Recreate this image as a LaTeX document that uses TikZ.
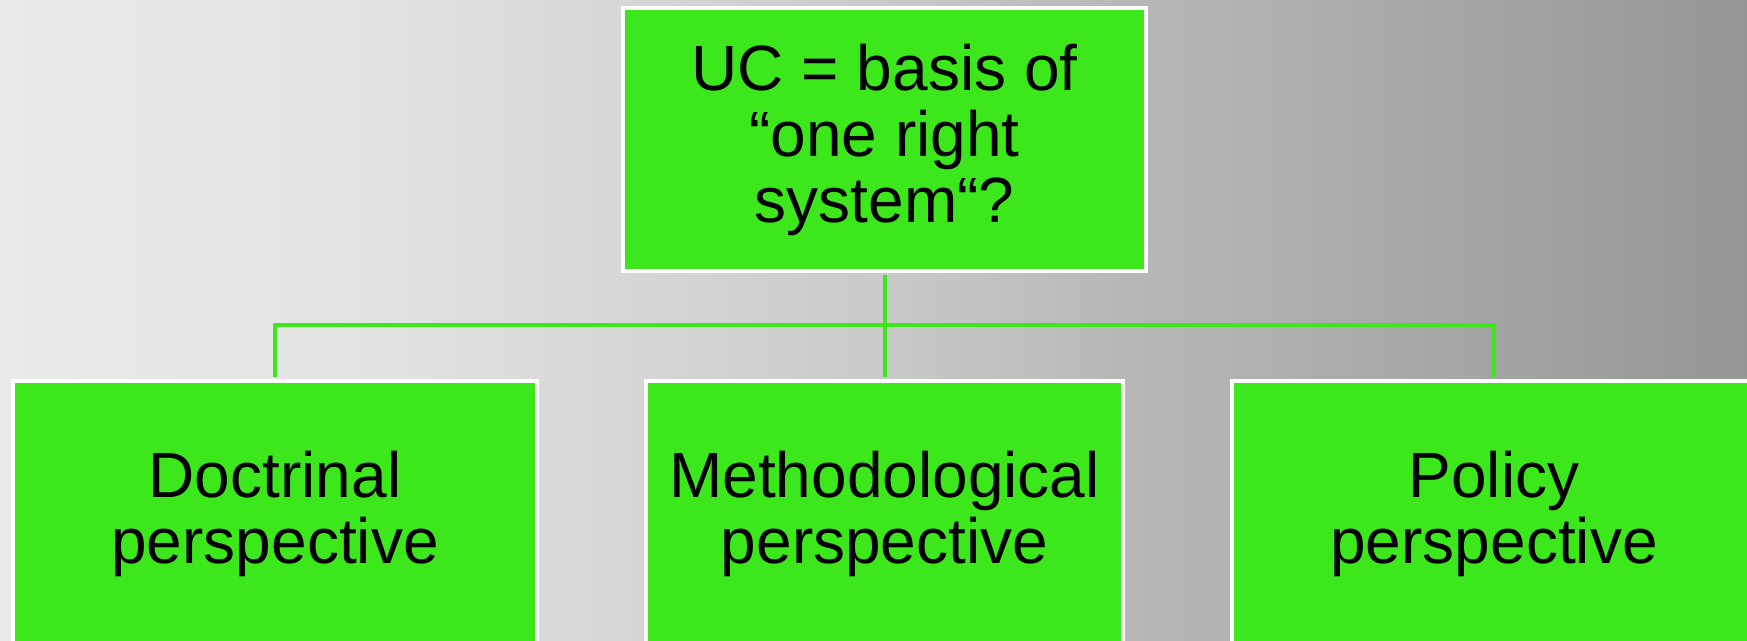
\documentclass[tikz,border=0pt]{standalone}
\usepackage{fontspec}
\setmainfont{Liberation Sans}
\usetikzlibrary{positioning}

\definecolor{boxgreen}{RGB}{60,232,28}
\definecolor{bgA}{RGB}{234,234,234}
\definecolor{bgB}{RGB}{150,150,150}

\pgfdeclarehorizontalshading{slidebg}{100bp}{%
  color(0bp)=(bgA); color(25bp)=(bgA);
  color(35bp)=(bgA!92!bgB); color(44bp)=(bgA!75!bgB);
  color(50bp)=(bgA!62!bgB); color(57bp)=(bgA!40!bgB);
  color(63bp)=(bgA!27!bgB); color(75bp)=(bgB); color(100bp)=(bgB)}

\begin{document}
\begin{tikzpicture}[x=1pt,y=-1pt,
    box/.style={draw=white,line width=4pt,fill=boxgreen,inner sep=0pt,
      align=center,font=\fontsize{64}{66}\selectfont},
    conn/.style={draw=boxgreen,line width=4pt,line join=round,
      shorten <=2pt,shorten >=2pt}]
  \useasboundingbox (0,0) rectangle (1747,640);
  \clip (0,0) rectangle (1747,640);
  \shade[shading=slidebg] (0,0) rectangle (1747,640);

  \node[box,minimum width=523,minimum height=263] (basis) at (884.5,139.5)
    {UC = basis of\\“one right\\system“?};

  \node[box,minimum width=524,minimum height=266] (doctrinal) at (275,514)
    {Doctrinal\\perspective};
  \node[box,minimum width=477,minimum height=266] (method) at (884.5,514)
    {Methodological\\perspective};
  \node[box,minimum width=524,minimum height=266] (policy) at (1494,514)
    {Policy\\perspective};

  \coordinate (hub) at (884.5,325);
  \draw[conn] (basis.south) -- (hub);
  \draw[conn,shorten <=0pt] (hub) -| (doctrinal.north);
  \draw[conn,shorten <=0pt] (hub) -- (method.north);
  \draw[conn,shorten <=0pt] (hub) -| (policy.north);
\end{tikzpicture}
\end{document}
